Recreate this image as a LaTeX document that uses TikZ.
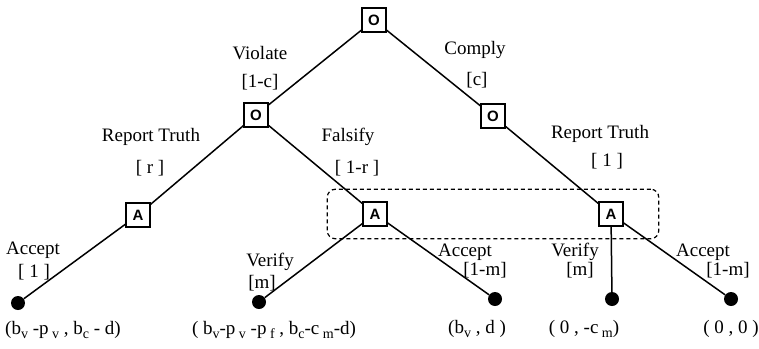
\documentclass[tikz,border=0pt]{standalone}
\usepackage{fontspec}
\setmainfont{Liberation Serif}
\setsansfont{Liberation Sans}
\usetikzlibrary{fit}
\tikzset{
  move/.style={draw,line width=1.5pt,fill=white,minimum size=24pt,inner sep=0pt,
    font=\sffamily\bfseries\fontsize{15}{15}\selectfont},
  leaf/.style={circle,fill=black,minimum size=14pt,inner sep=0pt},
  lbl/.style={inner sep=0pt,font=\fontsize{19}{21}\selectfont},
  branch/.style={line width=1.5pt},
  infoset/.style={draw,dashed,dash pattern=on 4pt off 3pt,line width=1.2pt,rounded corners=8pt,
    inner xsep=35pt,inner ysep=12pt},
}
\newcommand{\lowsub}[1]{\raisebox{-4pt}{\fontsize{14}{14}\selectfont #1}}
\begin{document}
\begin{tikzpicture}[x=1pt,y=-1pt]
\useasboundingbox (0,0) rectangle (759,348);
% decision nodes
\node[move] (root) at (374,20) {O};
\node[move] (vio) at (256,115) {O};
\node[move] (com) at (493,116) {O};
\node[move] (acc1) at (138,215) {A};
\node[move] (acc2) at (375,214) {A};
\node[move] (acc3) at (611,214) {A};
% end points
\node[leaf] (end1) at (18,303) {};
\node[leaf] (end2) at (259,302) {};
\node[leaf] (end3) at (495,299) {};
\node[leaf] (end4) at (612,299) {};
\node[leaf] (end5) at (731,299) {};
% branches
\draw[branch] (root) -- (vio);
\draw[branch] (root) -- (com);
\draw[branch] (vio) -- (acc1);
\draw[branch] (vio) -- (acc2);
\draw[branch] (com) -- (acc3);
\draw[branch] (acc1) -- (end1);
\draw[branch] (acc2) -- (end2);
\draw[branch] (acc2) -- (end3);
\draw[branch] (acc3) -- (end4);
\draw[branch] (acc3) -- (end5);
% information set
\node[infoset,fit=(acc2)(acc3)] (info) {};
% branch labels
\node[lbl] (violate) at (260,53) {Violate};
\node[lbl] (pviolate) at (260,82) {[1-c]};
\node[lbl] (comply) at (475,50) {Comply};
\node[lbl] (pcomply) at (477,80) {[c]};
\node[lbl] (truth1) at (151,137) {Report Truth};
\node[lbl] (ptruth1) at (150,168) {[ r ]};
\node[lbl] (falsify) at (348,137) {Falsify};
\node[lbl] (pfalsify) at (357,168) {[ 1-r ]};
\node[lbl] (truth2) at (600,134) {Report Truth};
\node[lbl] (ptruth2) at (607,161) {[ 1 ]};
\node[lbl] (accept1) at (33,250) {Accept};
\node[lbl] (paccept1) at (34,272) {[ 1 ]};
\node[lbl] (verify1) at (270,262) {Verify};
\node[lbl] (pverify1) at (262,283) {[m]};
\node[lbl] (accept2) at (465,252) {Accept};
\node[lbl] (paccept2) at (485,270) {[1-m]};
\node[lbl] (verify2) at (575,252) {Verify};
\node[lbl] (pverify2) at (580,270) {[m]};
\node[lbl] (accept3) at (703,252) {Accept};
\node[lbl] (paccept3) at (728,270) {[1-m]};
% payoffs
\node[lbl] (pay1) at (63,330) {(b\lowsub{v} -p\lowsub{ v} , b\lowsub{c} - d)};
\node[lbl] (pay2) at (274,330) {( b\lowsub{v}-p\lowsub{ v} -p\lowsub{ f} , b\lowsub{c}-c\lowsub{ m}-d)};
\node[lbl] (pay3) at (477,329) {(b\lowsub{v} , d )};
\node[lbl] (pay4) at (584,329) {( 0 , -c\lowsub{ m})};
\node[lbl] (pay5) at (731,329) {( 0 , 0 )};
\end{tikzpicture}
\end{document}
